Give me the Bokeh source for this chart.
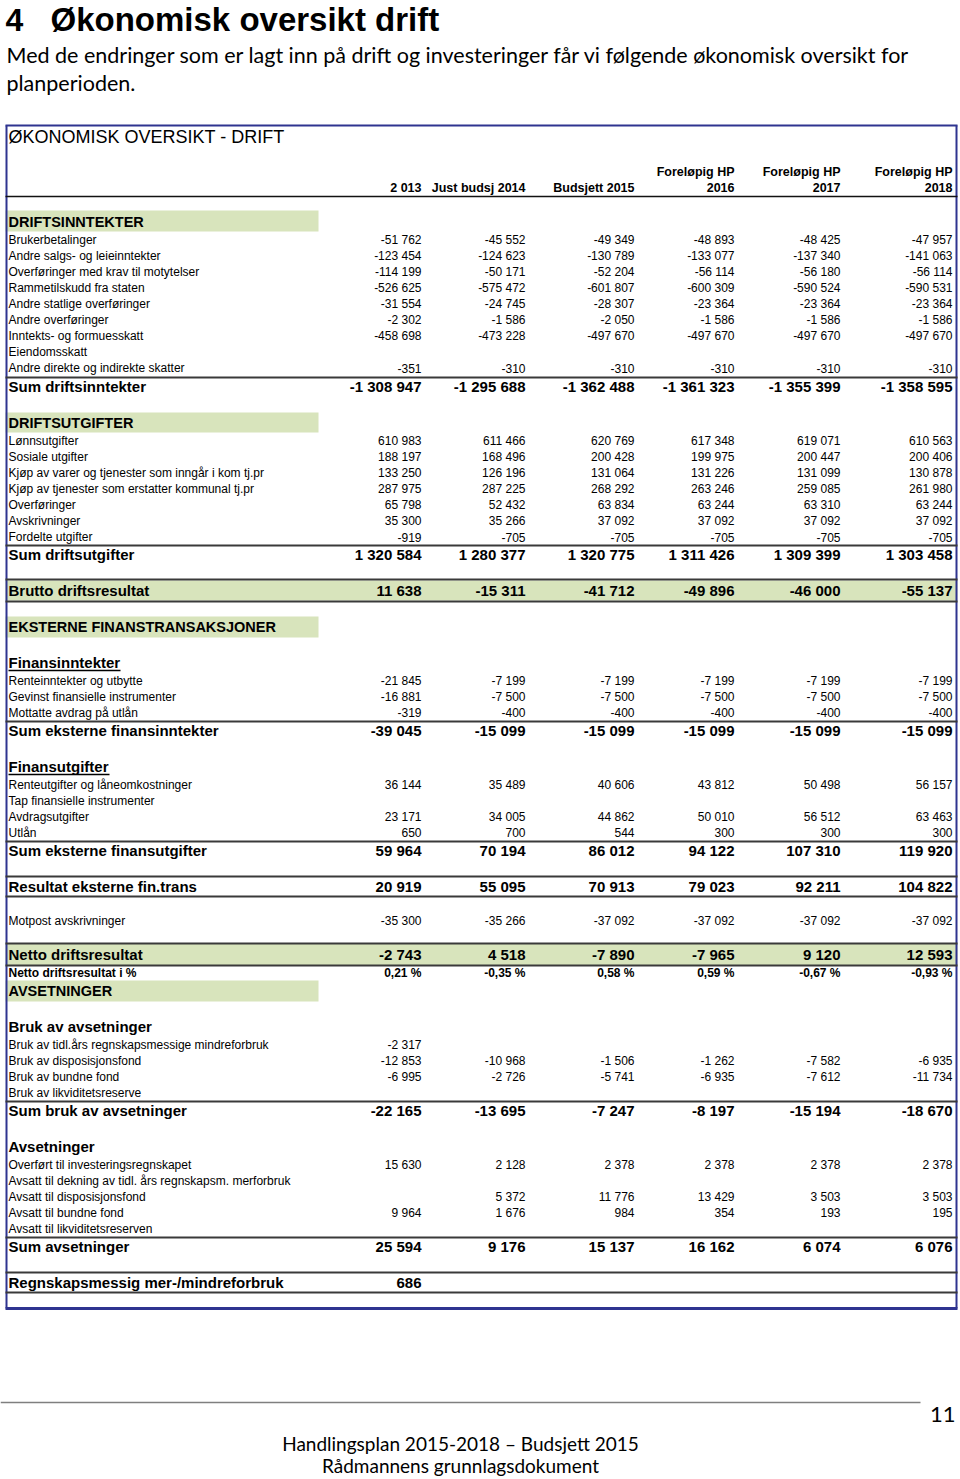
from bokeh.plotting import figure
from bokeh.models import Range1d, ColumnDataSource
from bokeh.core.properties import value, field
from bokeh.embed import file_html
from bokeh.resources import INLINE

# ---------------- data ----------------
header_top = ["", "", "", "Foreløpig HP", "Foreløpig HP", "Foreløpig HP"]
header_bottom = ["2 013", "Just budsj 2014", "Budsjett 2015", "2016", "2017", "2018"]

inntekt_labels = ["Brukerbetalinger", "Andre salgs- og leieinntekter",
                  "Overføringer med krav til motytelser", "Rammetilskudd fra staten",
                  "Andre statlige overføringer", "Andre overføringer",
                  "Inntekts- og formuesskatt", "Eiendomsskatt",
                  "Andre direkte og indirekte skatter"]
inntekt_values = [
    [-51762, -45552, -49349, -48893, -48425, -47957],
    [-123454, -124623, -130789, -133077, -137340, -141063],
    [-114199, -50171, -52204, -56114, -56180, -56114],
    [-526625, -575472, -601807, -600309, -590524, -590531],
    [-31554, -24745, -28307, -23364, -23364, -23364],
    [-2302, -1586, -2050, -1586, -1586, -1586],
    [-458698, -473228, -497670, -497670, -497670, -497670],
    [None] * 6,
    [-351, -310, -310, -310, -310, -310],
]
sum_inntekter = [-1308947, -1295688, -1362488, -1361323, -1355399, -1358595]

utgift_labels = ["Lønnsutgifter", "Sosiale utgifter",
                 "Kjøp av varer og tjenester som inngår i kom tj.pr",
                 "Kjøp av tjenester som erstatter kommunal tj.pr",
                 "Overføringer", "Avskrivninger", "Fordelte utgifter"]
utgift_values = [
    [610983, 611466, 620769, 617348, 619071, 610563],
    [188197, 168496, 200428, 199975, 200447, 200406],
    [133250, 126196, 131064, 131226, 131099, 130878],
    [287975, 287225, 268292, 263246, 259085, 261980],
    [65798, 52432, 63834, 63244, 63310, 63244],
    [35300, 35266, 37092, 37092, 37092, 37092],
    [-919, -705, -705, -705, -705, -705],
]
sum_utgifter = [1320584, 1280377, 1320775, 1311426, 1309399, 1303458]
brutto = [11638, -15311, -41712, -49896, -46000, -55137]

fininnt_labels = ["Renteinntekter og utbytte", "Gevinst finansielle instrumenter",
                  "Mottatte avdrag på utlån"]
fininnt_values = [
    [-21845, -7199, -7199, -7199, -7199, -7199],
    [-16881, -7500, -7500, -7500, -7500, -7500],
    [-319, -400, -400, -400, -400, -400],
]
sum_fininnt = [-39045, -15099, -15099, -15099, -15099, -15099]

finutg_labels = ["Renteutgifter og låneomkostninger", "Tap finansielle instrumenter",
                 "Avdragsutgifter", "Utlån"]
finutg_values = [
    [36144, 35489, 40606, 43812, 50498, 56157],
    [None] * 6,
    [23171, 34005, 44862, 50010, 56512, 63463],
    [650, 700, 544, 300, 300, 300],
]
sum_finutg = [59964, 70194, 86012, 94122, 107310, 119920]
resultat_fin = [20919, 55095, 70913, 79023, 92211, 104822]
motpost = [-35300, -35266, -37092, -37092, -37092, -37092]
netto = [-2743, 4518, -7890, -7965, 9120, 12593]
netto_pct = [0.21, -0.35, 0.58, 0.59, -0.67, -0.93]

bruk_labels = ["Bruk av tidl.års regnskapsmessige mindreforbruk",
               "Bruk av disposisjonsfond", "Bruk av bundne fond",
               "Bruk av likviditetsreserve"]
bruk_values = [
    [-2317, None, None, None, None, None],
    [-12853, -10968, -1506, -1262, -7582, -6935],
    [-6995, -2726, -5741, -6935, -7612, -11734],
    [None] * 6,
]
sum_bruk = [-22165, -13695, -7247, -8197, -15194, -18670]

avs_labels = ["Overført til investeringsregnskapet",
              "Avsatt til dekning av tidl. års regnskapsm. merforbruk",
              "Avsatt til disposisjonsfond", "Avsatt til bundne fond",
              "Avsatt til likviditetsreserven"]
avs_values = [
    [15630, 2128, 2378, 2378, 2378, 2378],
    [None] * 6,
    [None, 5372, 11776, 13429, 3503, 3503],
    [9964, 1676, 984, 354, 193, 195],
    [None] * 6,
]
sum_avs = [25594, 9176, 15137, 16162, 6074, 6076]
mer_mindre = [686, None, None, None, None, None]

# ---------------- helpers ----------------
col_right = [421, 525, 634, 734, 840, 952]
GREEN = "#D8E4BC"
NAVY = "#2F3490"
DARK = "#3a3a3a"


def fmt(v):
    if v is None:
        return ""
    return f"{v:,}".replace(",", " ")


def fmt_pct(v):
    return f"{v:.2f}".replace(".", ",") + " %"


T = dict(x=[], y=[], text=[], size=[], style=[], align=[])
L = dict(x0=[], y0=[], x1=[], y1=[], color=[], w=[])
B = dict(left=[], right=[], top=[], bottom=[], color=[])


def put(x, y, s, size=12, style="normal", align="left"):
    T["x"].append(x); T["y"].append(y); T["text"].append(s)
    T["size"].append(f"{size}px"); T["style"].append(style); T["align"].append(align)


def hline(y, x0=5, x1=957, color=DARK, w=2.0):
    L["x0"].append(x0); L["y0"].append(y); L["x1"].append(x1); L["y1"].append(y)
    L["color"].append(color); L["w"].append(w)


def vline(x, y0, y1, color=NAVY, w=2.0):
    L["x0"].append(x); L["y0"].append(y0); L["x1"].append(x); L["y1"].append(y1)
    L["color"].append(color); L["w"].append(w)


def band(y0, y1, x0=5, x1=318):
    B["left"].append(x0); B["right"].append(x1)
    B["top"].append(y0); B["bottom"].append(y1); B["color"].append(GREEN)


def values_row(y, vals, size=12, style="normal", f=fmt):
    for cx, v in zip(col_right, vals):
        if v is not None:
            put(cx, y, f(v), size, style, "right")


def data_rows(labels, values, y0, step=16.1):
    for i, (lab, vals) in enumerate(zip(labels, values)):
        y = y0 + i * step
        put(8, y, lab, 12)
        values_row(y, vals)


def sum_row(y, label, vals):
    put(8, y, label, 15, "bold")
    values_row(y, vals, 15, "bold")


# ---------------- layout ----------------
# frame
hline(125, 5, 957, NAVY, 2)
hline(1308, 5, 957, NAVY, 3)
vline(6, 125, 1308)
vline(956, 125, 1308)

put(8, 136, "ØKONOMISK OVERSIKT - DRIFT", 18)
for cx, t, b in zip(col_right, header_top, header_bottom):
    if t:
        put(cx, 171, t, 12.5, "bold", "right")
    put(cx, 187, b, 12.5, "bold", "right")
hline(196, 5, 957, "#111111", 1.6)

band(210, 231)
put(8, 221, "DRIFTSINNTEKTER", 14.5, "bold")
data_rows(inntekt_labels, inntekt_values, 239)
hline(377)
sum_row(386, "Sum driftsinntekter", sum_inntekter)

band(412, 432)
put(8, 422, "DRIFTSUTGIFTER", 14.5, "bold")
data_rows(utgift_labels, utgift_values, 440)
hline(545)
sum_row(554, "Sum driftsutgifter", sum_utgifter)

band(580, 600, 5, 957)
hline(579); hline(601)
sum_row(590, "Brutto driftsresultat", brutto)

band(616, 637)
put(8, 626, "EKSTERNE FINANSTRANSAKSJONER", 14.5, "bold")

put(8, 662, "Finansinntekter", 15, "bold")
hline(670, 8, 120, "#000000", 1.3)
data_rows(fininnt_labels, fininnt_values, 680)
hline(721)
sum_row(730, "Sum eksterne finansinntekter", sum_fininnt)

put(8, 766, "Finansutgifter", 15, "bold")
hline(774, 8, 109, "#000000", 1.3)
data_rows(finutg_labels, finutg_values, 784)
hline(841)
sum_row(850, "Sum eksterne finansutgifter", sum_finutg)

hline(876); hline(896)
sum_row(886, "Resultat eksterne fin.trans", resultat_fin)

put(8, 920, "Motpost avskrivninger", 12)
values_row(920, motpost)

band(943, 965, 5, 957)
hline(943); hline(965)
sum_row(954, "Netto driftsresultat", netto)
put(8, 972, "Netto driftsresultat i %", 12, "bold")
values_row(972, netto_pct, 12, "bold", fmt_pct)

band(980, 1001)
put(8, 990, "AVSETNINGER", 14.5, "bold")

put(8, 1026, "Bruk av avsetninger", 15, "bold")
data_rows(bruk_labels, bruk_values, 1044)
hline(1101)
sum_row(1110, "Sum bruk av avsetninger", sum_bruk)

put(8, 1146, "Avsetninger", 15, "bold")
data_rows(avs_labels, avs_values, 1164)
hline(1237)
sum_row(1246, "Sum avsetninger", sum_avs)

hline(1272); hline(1292)
sum_row(1282, "Regnskapsmessig mer-/mindreforbruk", mer_mindre)

# footer line
hline(1402, 0, 920, "#7f7f7f", 1.5)

# ---------------- figure ----------------
W, H = 960, 1478
p = figure(width=W, height=H, x_range=Range1d(0, W), y_range=Range1d(H, 0),
           output_backend="svg", toolbar_location=None, min_border=0,
           x_axis_type=None, y_axis_type=None, outline_line_color=None,
           background_fill_color="white", border_fill_color="white")
p.grid.visible = False

p.quad(left="left", right="right", top="top", bottom="bottom", fill_color="color",
       line_color=None, source=ColumnDataSource(B))
p.segment(x0="x0", y0="y0", x1="x1", y1="y1", line_color="color", line_width="w",
          source=ColumnDataSource(L))
p.text(x="x", y="y", text="text", source=ColumnDataSource(T),
       text_font=value("Liberation Sans"), text_font_size=field("size"),
       text_font_style=field("style"), text_align=field("align"),
       text_baseline="middle", text_color="#000000")

# page heading and footer
p.text(x=[5], y=[19], text=["4"], text_font=value("Liberation Sans"),
       text_font_size="32px", text_font_style="bold", text_baseline="middle")
p.text(x=[50], y=[19], text=["Økonomisk oversikt drift"], text_font=value("Liberation Sans"),
       text_font_size="33px", text_font_style="bold", text_baseline="middle")
p.text(x=[6, 6], y=[54, 82],
       text=["Med de endringer som er lagt inn på drift og investeringer får vi følgende økonomisk oversikt for",
             "planperioden."],
       text_font=value("Lato"), text_font_size="21.5px", text_baseline="middle")
p.text(x=[955], y=[1414], text=["11"], text_font=value("Lato"), text_font_size="22px",
       text_align="right", text_baseline="middle")
p.text(x=[460, 460], y=[1443, 1465],
       text=["Handlingsplan 2015-2018 – Budsjett 2015", "Rådmannens grunnlagsdokument"],
       text_font=value("Lato"), text_font_size="19px", text_align="center",
       text_baseline="middle")

with open("out.html", "w", encoding="utf-8") as fh:
    fh.write(file_html(p, INLINE, title="Økonomisk oversikt drift"))
